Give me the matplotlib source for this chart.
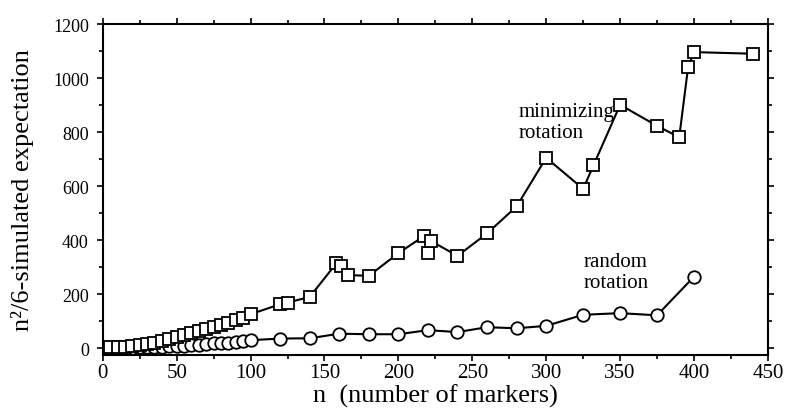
import matplotlib.pyplot as plt
from matplotlib.ticker import MultipleLocator

plt.rcParams['font.family'] = ['Liberation Serif', 'DejaVu Serif']

# minimizing rotation (squares)
n_min = [5, 10, 15, 20, 25, 30, 35, 40, 45, 50, 55, 60, 65, 70, 75, 80, 85, 90, 95, 100,
         120, 125, 140, 158, 161, 166, 180, 200, 217, 220, 222, 240, 260, 280, 300,
         325, 332, 350, 375, 390, 396, 400, 440]
v_min = [3, 5, 6, 10, 12, 15, 20, 27, 33, 42, 50, 58, 64, 70, 77, 88, 95, 105, 111, 126,
         163, 169, 190, 314, 305, 271, 268, 352, 414, 352, 397, 342, 425, 525, 705,
         590, 677, 901, 823, 781, 1040, 1096, 1090]

# random rotation (circles)
n_rand = [5, 10, 15, 20, 25, 30, 35, 40, 45, 50, 55, 60, 65, 70, 75, 80, 85, 90, 95, 100,
          120, 140, 160, 180, 200, 220, 240, 260, 280, 300, 325, 350, 375, 400]
v_rand = [0, 1, 1, 2, 3, 4, 4, 5, 7, 8, 10, 12, 14, 16, 18, 20, 21, 25, 27, 30,
          36, 37, 54, 52, 52, 67, 60, 78, 74, 83, 124, 130, 122, 265]

fig = plt.figure(figsize=(7.86, 4.14), dpi=100)
ax = fig.add_axes([0.1307, 0.140, 0.8463, 0.7996])

ax.plot(n_rand, v_rand, '-', color='black', lw=1.5, marker='o', ms=9,
        mfc='white', mec='black', mew=1.3)
ax.plot(n_min, v_min, '-', color='black', lw=1.5, marker='s', ms=9,
        mfc='white', mec='black', mew=1.3)

ax.text(281, 911, 'minimizing\nrotation', fontsize=15, va='top', ha='left', linespacing=1.1)
ax.text(325.6, 355, 'random\nrotation', fontsize=15, va='top', ha='left', linespacing=1.1)

ax.set_xlim(0, 450)
ax.set_ylim(-25, 1200)
ax.xaxis.set_major_locator(MultipleLocator(50))
ax.xaxis.set_minor_locator(MultipleLocator(25))
ax.yaxis.set_major_locator(MultipleLocator(200))
ax.yaxis.set_minor_locator(MultipleLocator(100))
ax.tick_params(which='both', direction='out', top=True, right=True, width=1.2)
ax.tick_params(which='major', length=4)
ax.tick_params(which='minor', length=3)
ax.tick_params(axis='x', labelsize=15, pad=2)
ax.tick_params(axis='y', labelsize=13, pad=6)
for s in ax.spines.values():
    s.set_linewidth(1.5)

ax.set_xlabel('n  (number of markers)', fontsize=19, labelpad=1)
ax.set_ylabel('n²/6-simulated expectation', fontsize=19, labelpad=14)

fig.savefig('out.png', dpi=100)
